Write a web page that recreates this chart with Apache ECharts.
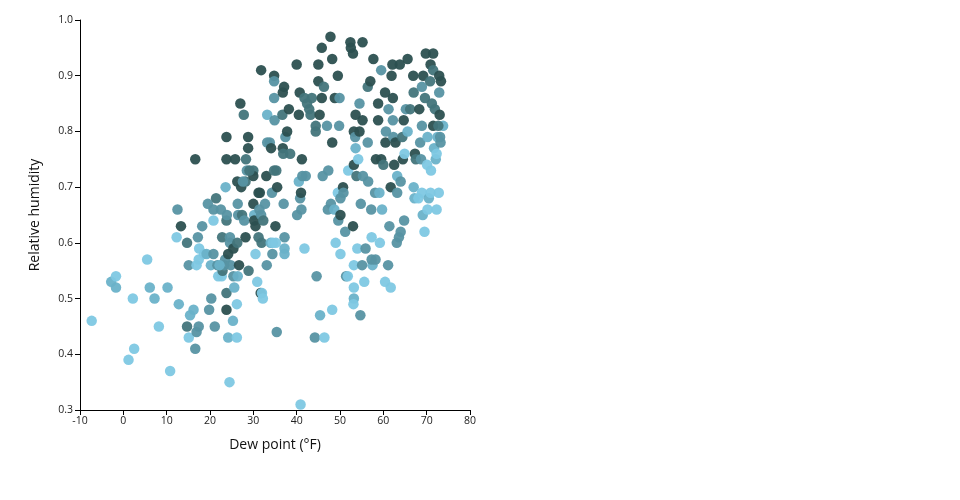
<!DOCTYPE html>
<html>
<head>
<meta charset="utf-8">
<script src="https://cdn.jsdelivr.net/npm/echarts@6/dist/echarts.min.js"></script>
<style>html,body{margin:0;padding:0;background:#fff}#chart{width:960px;height:500px}</style>
</head>
<body>
<div id="chart"></div>
<script>
// [dew point °F, relative humidity, shade level 0 (light) .. 4 (dark)]
const points = [
[-7.3,0.46,0],[-2.8,0.53,1],[-1.7,0.54,0],[-1.7,0.52,1],[2.2,0.50,0],[1.2,0.39,0],[2.5,0.41,0],
[5.5,0.57,0],[6.1,0.52,1],[7.2,0.50,1],[8.2,0.45,0],[10.2,0.52,1],[10.8,0.37,0],[12.8,0.49,1],
[12.5,0.66,2],[12.3,0.61,0],[13.3,0.63,4],[14.7,0.60,3],[15.1,0.56,2],[14.7,0.45,3],[15.1,0.43,0],
[15.4,0.47,1],[16.2,0.48,1],[16.6,0.75,4],[16.6,0.41,2],[16.9,0.44,2],[17.4,0.45,2],[16.9,0.56,0],
[17.2,0.61,2],[17.5,0.59,0],[17.4,0.57,0],[18.2,0.63,2],[18.6,0.58,0],[19.2,0.58,1],[19.5,0.67,2],
[19.8,0.48,2],[20.3,0.50,2],[20.2,0.56,1],[20.8,0.58,2],[20.8,0.64,0],[21.1,0.45,2],[21.4,0.68,3],
[20.8,0.66,2],[21.7,0.56,2],[21.9,0.54,0],[22.5,0.66,2],[22.7,0.54,0],[22.9,0.55,3],[23.3,0.56,2],
[23.5,0.57,2],[22.8,0.61,3],[23.6,0.70,1],[23.8,0.64,3],[23.9,0.65,2],[23.8,0.79,4],[23.8,0.75,4],
[23.8,0.48,4],[23.8,0.51,3],[24.2,0.43,1],[24.5,0.35,0],[24.2,0.58,4],[24.6,0.61,2],[24.6,0.60,2],
[24.8,0.56,2],[25.4,0.59,4],[25.4,0.54,2],[25.6,0.52,1],[25.3,0.46,1],[25.8,0.75,4],[26.2,0.49,0],
[26.2,0.43,0],[26.3,0.60,3],[26.4,0.67,2],[26.4,0.54,1],[26.3,0.71,4],[26.7,0.56,4],[26.5,0.65,2],
[27.0,0.85,4],[27.2,0.70,4],[27.4,0.65,3],[27.8,0.83,3],[27.9,0.64,2],[28.2,0.71,3],[28.3,0.75,3],
[28.2,0.61,4],[28.5,0.73,2],[28.8,0.77,4],[28.8,0.79,4],[28.9,0.55,3],[30.0,0.73,3],[30.0,0.72,4],
[30.0,0.67,4],[30.2,0.65,1],[30.5,0.58,0],[30.2,0.64,4],[30.5,0.63,4],[30.9,0.53,0],[31.2,0.61,3],
[31.2,0.69,4],[31.5,0.69,4],[31.7,0.51,4],[31.8,0.91,4],[31.8,0.65,2],[31.9,0.60,3],[32.0,0.51,0],
[32.2,0.50,0],[32.3,0.64,3],[32.7,0.67,2],[33.1,0.56,2],[33.0,0.72,4],[33.2,0.83,1],[33.2,0.78,2],
[33.8,0.78,2],[34.0,0.60,1],[34.1,0.77,4],[34.3,0.69,2],[34.4,0.58,2],[34.8,0.90,4],[34.8,0.89,2],
[34.8,0.86,2],[34.9,0.82,2],[34.8,0.73,3],[35.3,0.73,3],[35.2,0.60,0],[35.1,0.63,4],[35.5,0.70,4],
[35.4,0.44,2],[36.7,0.83,3],[36.8,0.87,4],[37.1,0.88,4],[36.8,0.77,4],[36.9,0.76,3],[37.0,0.67,2],
[37.2,0.61,2],[37.2,0.59,1],[37.2,0.58,1],[37.4,0.79,2],[37.8,0.80,4],[38.2,0.84,4],[38.5,0.76,3],
[40.0,0.92,4],[40.1,0.65,2],[40.5,0.71,1],[40.7,0.87,4],[40.5,0.83,4],[40.8,0.68,2],[41.0,0.69,4],
[40.9,0.31,0],[41.1,0.66,2],[41.2,0.75,4],[41.3,0.72,2],[41.8,0.59,0],[41.8,0.86,3],[42.1,0.72,2],
[42.4,0.85,3],[42.9,0.84,3],[43.2,0.83,3],[43.5,0.86,3],[44.2,0.43,2],[44.6,0.54,2],[44.4,0.80,3],
[44.4,0.81,3],[45.0,0.89,4],[45.0,0.92,4],[45.3,0.83,4],[45.4,0.47,1],[45.8,0.86,4],[45.8,0.95,4],
[46.0,0.72,2],[46.3,0.88,3],[46.4,0.43,0],[47.0,0.81,2],[47.3,0.73,2],[47.8,0.97,4],[47.2,0.66,2],
[47.9,0.67,2],[48.2,0.48,0],[48.2,0.93,4],[48.2,0.78,4],[48.7,0.66,1],[48.8,0.86,4],[49.5,0.90,4],
[49.5,0.69,0],[49.6,0.64,2],[49.9,0.86,2],[49.8,0.81,2],[50.1,0.65,4],[50.1,0.68,2],[49.0,0.60,0],
[50.1,0.58,0],[50.7,0.70,4],[50.8,0.69,2],[51.2,0.62,2],[51.4,0.54,2],[51.8,0.54,0],[51.9,0.73,0],
[52.4,0.96,4],[52.5,0.95,4],[53.0,0.94,4],[53.0,0.63,4],[53.2,0.52,0],[53.2,0.50,1],[53.1,0.49,0],
[53.2,0.56,0],[53.2,0.80,4],[53.6,0.83,4],[53.5,0.79,2],[53.6,0.77,1],[53.8,0.72,3],[53.2,0.74,4],
[54.0,0.59,0],[54.2,0.75,0],[54.5,0.85,2],[54.5,0.80,4],[54.7,0.47,2],[54.8,0.67,2],[55.1,0.56,2],
[55.2,0.96,4],[55.2,0.82,4],[55.3,0.72,2],[55.6,0.53,0],[55.9,0.59,2],[56.4,0.88,3],[56.4,0.78,2],
[56.5,0.71,2],[57.0,0.89,4],[57.2,0.66,2],[57.3,0.61,0],[57.5,0.56,1],[57.3,0.57,2],[57.7,0.93,4],
[58.1,0.69,2],[58.2,0.57,2],[58.3,0.75,4],[58.8,0.85,4],[58.8,0.82,4],[59.1,0.69,1],[59.2,0.60,0],
[59.5,0.75,4],[59.7,0.66,1],[59.5,0.91,2],[60.0,0.74,3],[60.4,0.87,4],[60.5,0.78,4],[60.6,0.80,2],
[60.4,0.53,0],[61.1,0.56,2],[61.2,0.84,2],[61.4,0.63,2],[61.7,0.52,0],[61.7,0.70,4],[61.9,0.90,4],
[62.1,0.92,4],[62.2,0.82,2],[62.3,0.79,2],[62.5,0.74,4],[62.2,0.86,4],[62.8,0.78,4],[63.1,0.60,2],
[63.2,0.69,2],[63.2,0.72,1],[63.6,0.61,2],[63.8,0.92,4],[64.0,0.71,2],[64.0,0.62,2],[64.4,0.79,3],
[64.5,0.75,4],[64.7,0.82,4],[64.8,0.64,2],[64.9,0.76,0],[65.2,0.84,2],[65.6,0.93,4],[65.6,0.80,1],
[66.2,0.84,3],[66.9,0.90,4],[67.0,0.87,3],[67.0,0.70,1],[67.2,0.68,1],[67.3,0.76,4],[67.5,0.75,3],
[68.1,0.68,0],[68.3,0.84,4],[68.5,0.78,2],[68.7,0.75,2],[68.9,0.81,2],[68.9,0.69,0],[69.1,0.65,1],
[69.2,0.90,4],[69.5,0.62,0],[68.9,0.88,2],[69.6,0.86,3],[69.8,0.94,4],[70.1,0.74,0],[70.2,0.66,0],
[70.2,0.79,1],[70.5,0.68,1],[70.9,0.69,0],[70.8,0.89,3],[70.9,0.92,4],[71.0,0.73,0],[71.2,0.85,3],
[71.5,0.94,4],[71.5,0.91,3],[71.5,0.81,4],[71.7,0.77,1],[71.9,0.84,3],[72.1,0.75,1],[72.3,0.66,0],
[72.3,0.76,0],[72.5,0.79,1],[72.8,0.69,0],[72.9,0.90,4],[72.9,0.87,2],[73.0,0.83,4],[73.1,0.79,2],
[73.2,0.78,2],[73.3,0.89,4],[73.8,0.81,1],[72.7,0.81,3],[27.6,0.71,2],[29.1,0.73,3],[31.4,0.66,2],
[34.5,0.60,0],[22.2,0.56,1]
];
const dewPoint = points.map(p => p[0]);
const humidity = points.map(p => p[1]);
const shade = points.map(p => p[2]);

const palette = ['#7ec8e3', '#6ab2c9', '#5794a3', '#43757b', '#2c5050'];
const xTicks = [-10, 0, 10, 20, 30, 40, 50, 60, 70, 80];
const yTicks = [0.3, 0.4, 0.5, 0.6, 0.7, 0.8, 0.9, 1.0];

const chart = echarts.init(document.getElementById('chart'));
const font = '"Open Sans", "Noto Sans", sans-serif';
chart.setOption({
  animation: false,
  textStyle: { fontFamily: font },
  grid: { left: 80, right: 490, top: 20, bottom: 90, containLabel: false },
  xAxis: {
    type: 'value', min: xTicks[0], max: xTicks[xTicks.length - 1], interval: 10,
    name: 'Dew point (°F)', nameLocation: 'middle', nameGap: 28,
    nameTextStyle: { fontSize: 14, color: '#111', fontFamily: font },
    axisLine: { onZero: false, lineStyle: { color: '#000', width: 1 } },
    axisTick: { show: true, length: 5, lineStyle: { color: '#000' } },
    axisLabel: { fontSize: 10.5, color: '#222', margin: 6, fontFamily: font },
    splitLine: { show: false }
  },
  yAxis: {
    type: 'value', min: yTicks[0], max: yTicks[yTicks.length - 1], interval: 0.1,
    name: 'Relative humidity', nameLocation: 'middle', nameGap: 38, nameRotate: 90,
    nameTextStyle: { fontSize: 14, color: '#111', fontFamily: font },
    axisLine: { show: true, onZero: false, lineStyle: { color: '#000', width: 1 } },
    axisTick: { show: true, length: 5, lineStyle: { color: '#000' } },
    axisLabel: { fontSize: 10.5, color: '#222', margin: 7, fontFamily: font,
      formatter: v => v.toFixed(1) },
    splitLine: { show: false }
  },
  series: [{
    type: 'scatter',
    symbolSize: 10.5,
    data: dewPoint.map((d, i) => [d, humidity[i], shade[i]]),
    itemStyle: { opacity: 0.95, color: p => palette[p.data[2]] }
  }]
});
</script>
</body>
</html>
